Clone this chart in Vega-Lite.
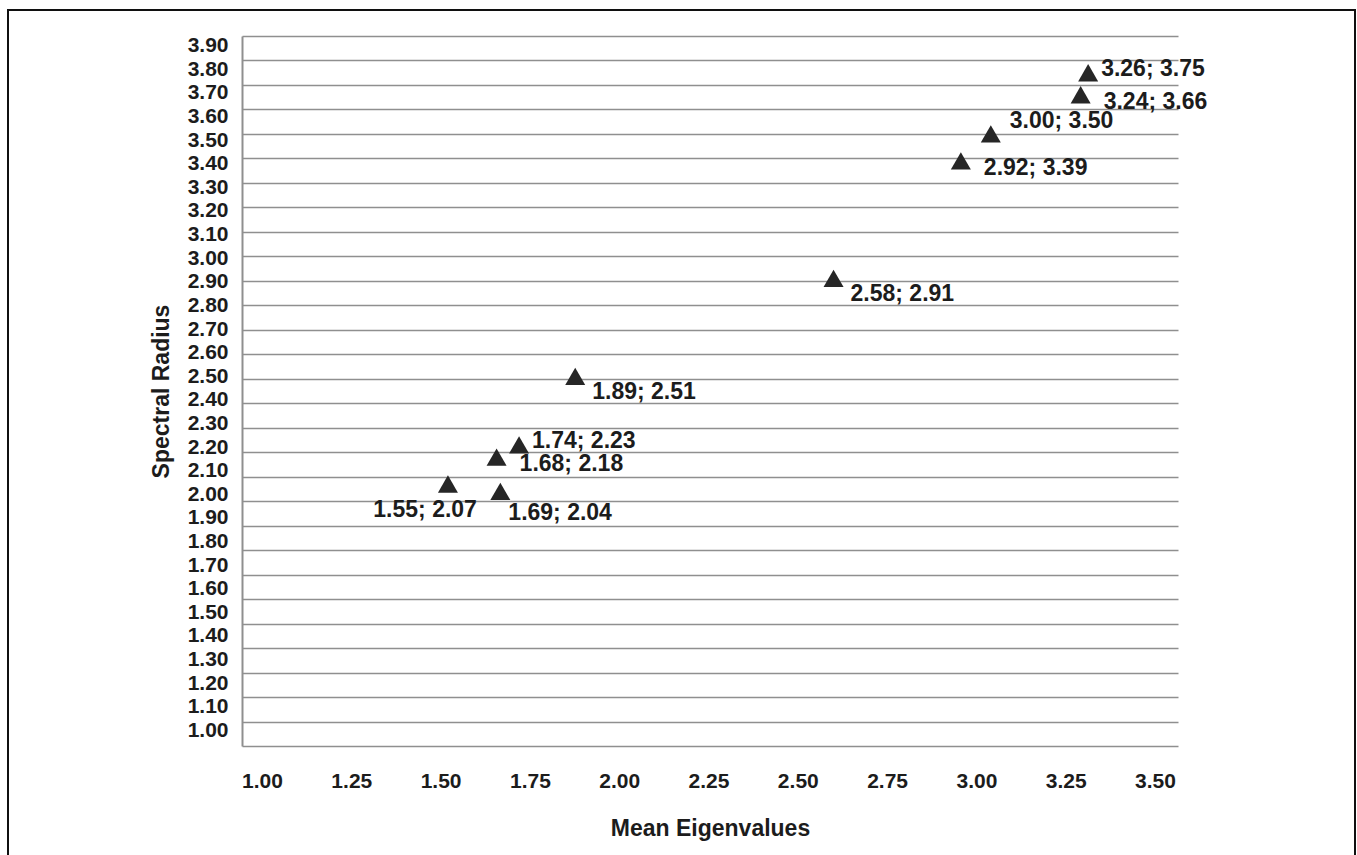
{
  "$schema": "https://vega.github.io/schema/vega-lite/v6.json",
  "width": 936,
  "height": 710,
  "autosize": {"type": "none"},
  "padding": {"left": 242, "top": 36, "right": 179, "bottom": 109},
  "background": "white",
  "config": {"view": {"stroke": null}, "font": "Liberation Sans"},
  "data": {
    "values": [
      {"me": 1.55, "sr": 2.07, "label": "1.55; 2.07"},
      {"me": 1.69, "sr": 2.04, "label": "1.69; 2.04"},
      {"me": 1.68, "sr": 2.18, "label": "1.68; 2.18"},
      {"me": 1.74, "sr": 2.23, "label": "1.74; 2.23"},
      {"me": 1.89, "sr": 2.51, "label": "1.89; 2.51"},
      {"me": 2.58, "sr": 2.91, "label": "2.58; 2.91"},
      {"me": 2.92, "sr": 3.39, "label": "2.92; 3.39"},
      {"me": 3.00, "sr": 3.50, "label": "3.00; 3.50"},
      {"me": 3.24, "sr": 3.66, "label": "3.24; 3.66"},
      {"me": 3.26, "sr": 3.75, "label": "3.26; 3.75"}
    ]
  },
  "layer": [
    {
      "encoding": {
        "x": {"field": "me", "type": "quantitative", "scale": {"domain": [1, 3.5], "nice": false, "zero": false}, "axis": null},
        "y": {"field": "sr", "type": "quantitative", "scale": {"domain": [1, 3.9], "nice": false, "zero": false},
          "axis": {"orient": "left", "grid": true, "gridColor": "#8f8f8f", "gridWidth": 1.5, "labels": false, "ticks": false, "domain": true, "domainColor": "#8f8f8f", "domainWidth": 2, "title": null,
            "values": [1.0,1.1,1.2,1.3,1.4,1.5,1.6,1.7,1.8,1.9,2.0,2.1,2.2,2.3,2.4,2.5,2.6,2.7,2.8,2.9,3.0,3.1,3.2,3.3,3.4,3.5,3.6,3.7,3.8,3.9]}}
      },
      "layer": [
        {"mark": {"type": "rect", "fill": null, "stroke": "#111111", "strokeWidth": 1.5},
         "encoding": {"x": {"datum": 0.375}, "x2": {"datum": 3.9728}, "y": {"datum": 4.0062}, "y2": {"datum": 0.4}}},
        {"mark": {"type": "point", "shape": "triangle-up", "size": 400, "filled": true, "fill": "#262626", "opacity": 1, "strokeWidth": 0}},
        {"transform": [{"filter": "datum.me == 2.58 || datum.me == 1.89"}],
         "mark": {"type": "text", "align": "left", "baseline": "middle", "dx": 17, "dy": 16, "fontSize": 23, "fontWeight": "bold", "fill": "#1c1c1c"},
         "encoding": {"text": {"field": "label"}}},
        {"transform": [{"filter": "datum.me == 3.24 || datum.me == 2.92 || datum.me == 1.68"}],
         "mark": {"type": "text", "align": "left", "baseline": "middle", "dx": 23, "dy": 7, "fontSize": 23, "fontWeight": "bold", "fill": "#1c1c1c"},
         "encoding": {"text": {"field": "label"}}},
        {"transform": [{"filter": "datum.me == 3.26 || datum.me == 1.74"}],
         "mark": {"type": "text", "align": "left", "baseline": "middle", "dx": 13, "dy": -4, "fontSize": 23, "fontWeight": "bold", "fill": "#1c1c1c"},
         "encoding": {"text": {"field": "label"}}},
        {"transform": [{"filter": "datum.me == 3.00"}],
         "mark": {"type": "text", "align": "left", "baseline": "middle", "dx": 19, "dy": -13, "fontSize": 23, "fontWeight": "bold", "fill": "#1c1c1c"},
         "encoding": {"text": {"field": "label"}}},
        {"transform": [{"filter": "datum.me == 1.69"}],
         "mark": {"type": "text", "align": "left", "baseline": "middle", "dx": 8, "dy": 22, "fontSize": 23, "fontWeight": "bold", "fill": "#1c1c1c"},
         "encoding": {"text": {"field": "label"}}},
        {"transform": [{"filter": "datum.me == 1.55"}],
         "mark": {"type": "text", "align": "right", "baseline": "middle", "dx": 29, "dy": 26, "fontSize": 23, "fontWeight": "bold", "fill": "#1c1c1c"},
         "encoding": {"text": {"field": "label"}}}
      ]
    },
    {
      "mark": {"type": "point", "opacity": 0},
      "encoding": {
        "x": {"field": "me", "type": "quantitative", "scale": {"domain": [0.944, 3.5644], "nice": false, "zero": false},
          "axis": {"orient": "bottom", "title": "Mean Eigenvalues", "values": [1, 1.25, 1.5, 1.75, 2, 2.25, 2.5, 2.75, 3, 3.25, 3.5], "format": ".2f",
            "grid": false, "ticks": false, "domain": false, "labelFontSize": 21, "labelFontWeight": "bold", "labelColor": "#1c1c1c", "labelPadding": 24,
            "titleFontSize": 23, "titleFontWeight": "bold", "titleColor": "#1c1c1c", "titlePadding": 26, "labelFlush": false, "labelOverlap": false}},
        "y": {"field": "sr", "type": "quantitative", "scale": {"domain": [0.9331, 3.9415], "nice": false, "zero": false},
          "axis": {"orient": "left", "title": "Spectral Radius", "values": [1.0,1.1,1.2,1.3,1.4,1.5,1.6,1.7,1.8,1.9,2.0,2.1,2.2,2.3,2.4,2.5,2.6,2.7,2.8,2.9,3.0,3.1,3.2,3.3,3.4,3.5,3.6,3.7,3.8,3.9], "format": ".2f",
            "grid": false, "ticks": false, "domain": false, "labelFontSize": 21, "labelFontWeight": "bold", "labelColor": "#1c1c1c", "labelPadding": 14, "labelBaseline": "middle",
            "titleFontSize": 23, "titleFontWeight": "bold", "titleColor": "#1c1c1c", "titlePadding": 14, "labelFlush": false, "labelOverlap": false}}
      }
    }
  ],
  "resolve": {"scale": {"x": "independent", "y": "independent"}}
}
